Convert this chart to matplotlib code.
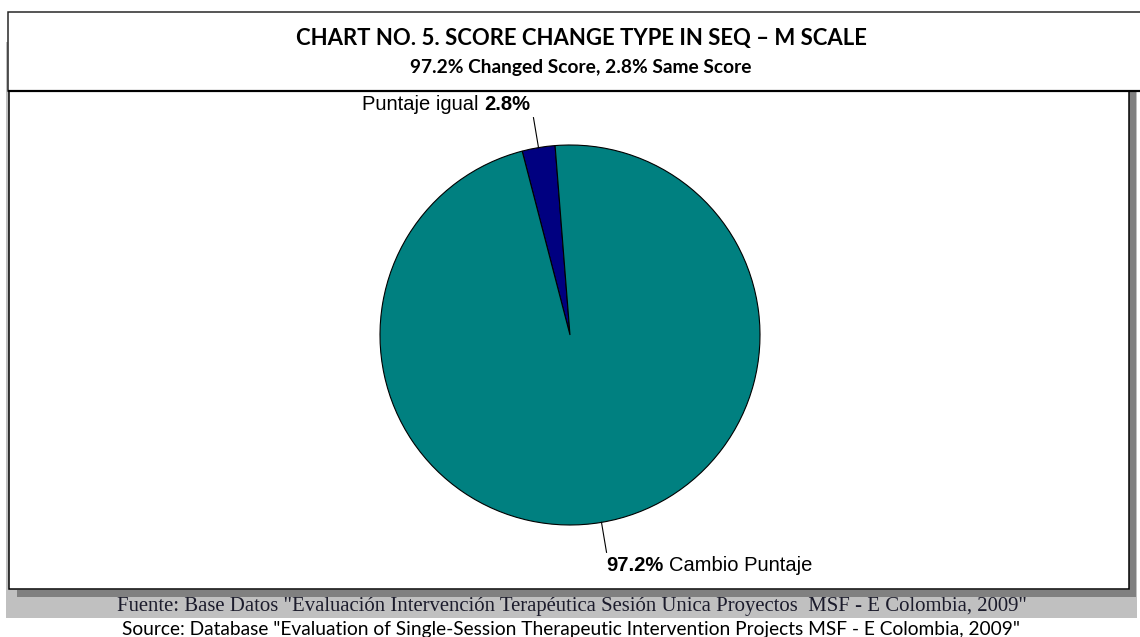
import matplotlib
matplotlib.use('Agg')
import matplotlib.pyplot as plt
from matplotlib.patches import Rectangle
import numpy as np

# ---- data ----
categories = ['Puntaje igual', 'Cambio Puntaje']
values = [2.8, 97.2]
pct_labels = ['2.8%', '97.2%']
colors = ['#000080', '#008080']
title = 'CHART NO. 5. SCORE CHANGE TYPE IN SEQ \u2013 M SCALE'
subtitle = '97.2% Changed Score, 2.8% Same Score'
source_es = 'Fuente: Base Datos "Evaluación Intervención Terapéutica Sesión Unica Proyectos  MSF - E Colombia, 2009"'
source_en = 'Source: Database "Evaluation of Single-Session Therapeutic Intervention Projects MSF - E Colombia, 2009"'

W, H = 1140, 637
DPI = 100
fig = plt.figure(figsize=(W / DPI, H / DPI), dpi=DPI)
fig.patch.set_facecolor('white')
bg = fig.add_axes([0, 0, 1, 1])
bg.set_xlim(0, W)
bg.set_ylim(H, 0)
bg.axis('off')
renderer = fig.canvas.get_renderer()

px = 72.0 / DPI  # one pixel in points

# ---- frame ----
bg.add_patch(Rectangle((6, 42), 1131, 576, facecolor='#c0c0c0', edgecolor='none', zorder=0))
bg.add_patch(Rectangle((17, 590), 1119, 7, facecolor='#808080', edgecolor='none', zorder=1))
bg.add_patch(Rectangle((1129, 92), 7, 505, facecolor='#808080', edgecolor='none', zorder=1))
bg.add_patch(Rectangle((9, 90), 1120, 499, facecolor='white', edgecolor='black', linewidth=1.5 * px, zorder=2))
bg.add_patch(Rectangle((8, 11.5), 1150, 79, facecolor='white', edgecolor='#222222', linewidth=1.5 * px, zorder=3))
bg.plot([8, W], [90.5, 90.5], color='black', linewidth=2.2 * px, zorder=4, solid_capstyle='butt')


def fit(t, width):
    w = t.get_window_extent(renderer).width
    t.set_fontsize(t.get_fontsize() * width / w)


t = bg.text(581, 39, title, ha='center', va='center', family='Lato', fontweight='bold', fontsize=14, color='black', zorder=5)
fit(t, 576)
t = bg.text(580.5, 67, subtitle, ha='center', va='center', family='Lato', fontweight='bold', fontsize=11, color='black', zorder=5)
fit(t, 341)
t = bg.text(572, 606, source_es, ha='center', va='center', family='Liberation Serif', fontsize=13, color='#1c1c2c', zorder=5)
fit(t, 910)
t = bg.text(571, 630, source_en, ha='center', va='center', family='Lato', fontsize=13, color='black', zorder=5)
fit(t, 898)

# ---- pie ----
cx, cy, r = 570, 335, 190
ax = fig.add_axes([(cx - r) / W, (H - cy - r) / H, 2 * r / W, 2 * r / H])
wedges, _ = ax.pie(values, colors=colors, startangle=94.5, counterclock=True, radius=1,
                   wedgeprops=dict(edgecolor='black', linewidth=0.8))
ax.set_xlim(-1, 1)
ax.set_ylim(-1, 1)
ax.set_aspect('equal')
ax.axis('off')

label_size = 14.5


def mixed(parts, x, y, align):
    texts = [bg.text(0, y, s, fontsize=label_size, fontweight=wt, family='Liberation Sans',
                     va='center', ha='left', color='black', zorder=6) for s, wt in parts]
    widths = [tt.get_window_extent(renderer).width for tt in texts]
    gap = 0.278 * label_size / px
    total = sum(widths) + gap * (len(texts) - 1)
    cur = x - total if align == 'right' else x
    for tt, w in zip(texts, widths):
        tt.set_x(cur)
        cur += w + gap


inv = bg.transData.inverted()
for i, w in enumerate(wedges):
    ang = np.deg2rad((w.theta1 + w.theta2) / 2)
    c, s = np.cos(ang), np.sin(ang)
    r_out = 1.16
    ax.plot([c, c * r_out], [s, s * r_out], color='black', linewidth=0.8, clip_on=False)
    ex, ey = inv.transform(ax.transData.transform((c * r_out, s * r_out)))
    if i == 0:
        mixed([(categories[i], 'normal'), (pct_labels[i], 'bold')], ex - 3, ey - 13, 'right')
    else:
        mixed([(pct_labels[i], 'bold'), (categories[i], 'normal')], ex, ey + 13, 'left')

fig.savefig('out.png', dpi=DPI)
